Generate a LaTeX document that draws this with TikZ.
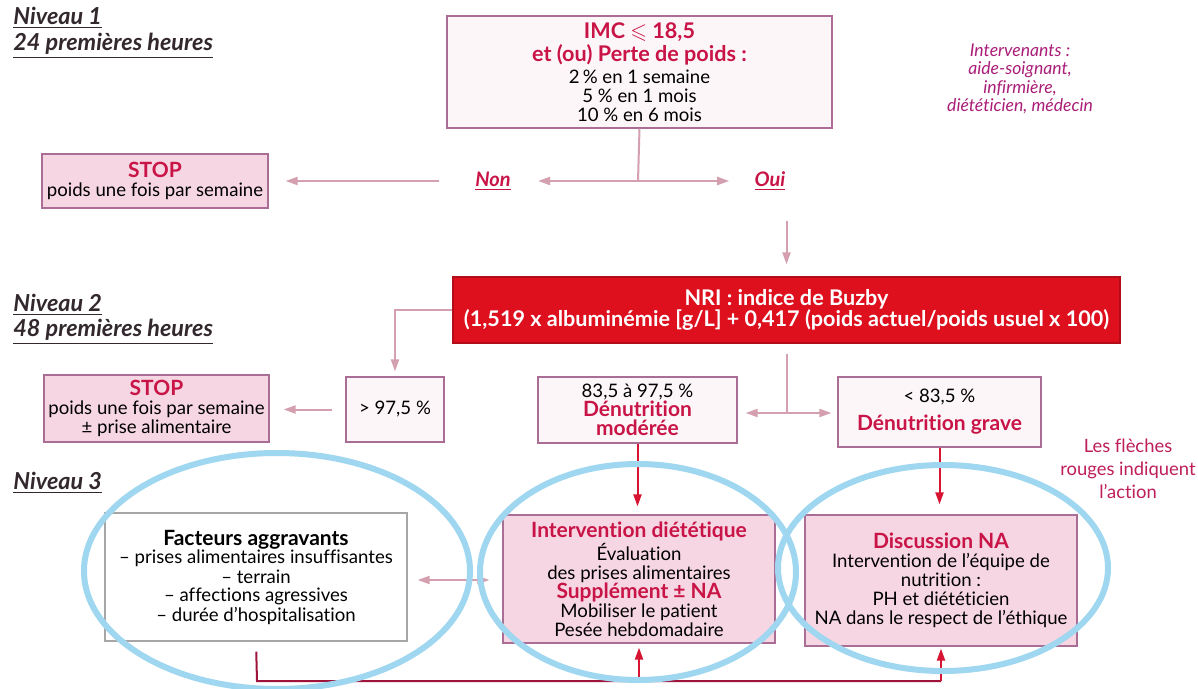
\documentclass[tikz,border=0pt]{standalone}
\usepackage{amssymb}
\usepackage{fontspec}
\setmainfont{Lato}[Ligatures={NoCommon,NoContextual}]
\usetikzlibrary{arrows.meta,calc}
\definecolor{crim}{RGB}{200,20,70}
\definecolor{boxc}{RGB}{170,110,150}
\definecolor{pinkf}{RGB}{246,214,226}
\definecolor{lightf}{RGB}{253,246,248}
\definecolor{arrc}{RGB}{212,160,176}
\definecolor{nrif}{RGB}{222,16,30}
\definecolor{redarr}{RGB}{215,20,50}
\definecolor{darkred}{RGB}{160,20,60}
\definecolor{elc}{RGB}{160,215,240}
\definecolor{intc}{RGB}{170,30,120}
\definecolor{legc}{RGB}{190,30,90}
\definecolor{titc}{RGB}{50,40,45}
\newcommand\hlc[1]{{\color{crim}\bfseries #1}}
\newcommand\bigh{\fontsize{10.5}{10}\selectfont}
\begin{document}
\begin{tikzpicture}[x=0.5pt,y=-0.5pt,
  box/.style={draw=boxc, line width=0.6pt, align=center, inner sep=0pt, text=black,
    font=\fontsize{9.3}{9.5}\selectfont},
  pinkbox/.style={box, fill=pinkf},
  whitebox/.style={box, fill=lightf},
  parr/.style={draw=arrc, line width=1pt, -{Triangle[length=6pt,width=4pt]}},
  pline/.style={draw=arrc, line width=1pt},
  rarr/.style={draw=redarr, line width=1pt, -{Triangle[length=6pt,width=4pt]}},
  lvl/.style={anchor=west, inner sep=0pt, text=titc, font=\fontsize{11.7}{13}\selectfont\bfseries\itshape},
  choice/.style={inner sep=0pt, text=crim, font=\fontsize{10}{12}\selectfont\bfseries\itshape},
  ell/.style={draw=elc, line width=3pt}
]
\useasboundingbox (0,0) rectangle (1198,689);
\fill[white] (0,0) rectangle (1198,689);

% level titles
\node[lvl] (n1) at (13,18) {\underline{Niveau 1}};
\node[lvl] (n1b) at (13,46) {\underline{24 premières heures}};
\node[lvl] (n2) at (13,305) {\underline{Niveau 2}};
\node[lvl] (n2b) at (13,332) {\underline{48 premières heures}};
\node[lvl] (n3) at (13,483) {\underline{Niveau 3}};

% top box
\node[whitebox, minimum width=192.5pt, minimum height=56pt] (top) at (639.5,72)
  {\hlc{\fontsize{10.8}{10}\selectfont IMC $\leqslant$ 18,5}\\[0.5pt]
   \hlc{\fontsize{10.8}{10}\selectfont et (ou) Perte de poids :}\\[1.5pt]
   2\,\% en 1 semaine\\ 5 \% en 1 mois\\ 10 \% en 6 mois};

\node[inner sep=0pt, align=center, text=intc, font=\fontsize{8.8}{9.2}\selectfont\itshape] (interv) at (1020,79)
  {Intervenants :\\ aide-soignant,\\ infirmière,\\ diététicien, médecin};

\node[choice] (non) at (493,181) {\underline{Non}};
\node[choice] (oui) at (770,181) {\underline{Oui}};

\node[pinkbox, minimum width=113pt, minimum height=27pt] (stop1) at (155,181)
  {\hlc{\bigh STOP}\\ poids une fois par semaine};

\coordinate (split) at (638,181);
\draw[pline] (top.south) -- (split);
\draw[parr] (split) -- ($(non.east)+(27,0)$);
\draw[parr] (split) -- ($(oui.west)+(-25,0)$);
\draw[parr, shorten <=18pt, shorten >=8.5pt] (non.west) -- (stop1.east);

% NRI
\node[box, fill=nrif, draw=nrif!80!black, text=white, minimum width=333.5pt, minimum height=33pt,
  font=\fontsize{10.8}{10.5}\selectfont\bfseries] (nri) at (786.5,310)
  {NRI : indice de Buzby\\ (1,519 x albuminémie [g/L] + 0,417 (poids actuel/poids usuel x 100)};
\draw[parr, shorten <=15pt, shorten >=6pt] (oui.south -| nri.north) -- (nri.north);

% level 2 boxes
\node[whitebox, minimum width=49pt, minimum height=32.5pt] (gt) at (395,409.5) {> 97,5 \%};
\node[pinkbox, minimum width=112.5pt, minimum height=33.5pt] (stop2) at (156.5,408.5)
  {\hlc{\bigh STOP}\\ poids une fois par semaine\\ ± prise alimentaire};
\node[whitebox, minimum width=99.5pt, minimum height=33pt] (mid) at (637.5,410)
  {83,5 à 97,5 \%\\ \hlc{\bigh Dénutrition}\\ \hlc{\bigh modérée}};
\node[whitebox, minimum width=101.5pt, minimum height=35pt] (grave) at (939.5,412)
  {< 83,5 \%\\[4.5pt] \hlc{\bigh Dénutrition grave}};

\draw[parr, shorten >=2.5pt] (nri.west) -| (gt.north);
\draw[parr, shorten <=6.5pt, shorten >=7pt] (gt.west) -- (stop2.east |- gt.west);

\coordinate (fork) at (786.5,413);
\draw[pline, shorten <=5pt] (nri.south) -- (fork);
\draw[parr] (fork) -- ($(mid.east |- fork)+(8,0)$);
\draw[parr] (fork) -- ($(grave.west |- fork)+(-6,0)$);

\node[inner sep=0pt, align=center, text=legc, font=\fontsize{9.2}{11.5}\selectfont] (legend) at (1128,469)
  {Les flèches\\ rouges indiquent\\ l'action};

% level 3 boxes
\node[box, fill=white, draw=gray!70, minimum width=151pt, minimum height=64pt] (fact) at (256,577)
  {\textbf{\bigh Facteurs aggravants}\\
   – prises alimentaires insuffisantes\\ – terrain\\ – affections agressives\\ – durée d'hospitalisation};
\node[pinkbox, minimum width=136pt, minimum height=64pt] (diet) at (639,579)
  {\hlc{\bigh Intervention diététique}\\ Évaluation\\ des prises alimentaires\\
   \hlc{\bigh Supplément ± NA}\\ Mobiliser le patient\\ Pesée hebdomadaire};
\node[pinkbox, minimum width=136pt, minimum height=65.5pt] (disc) at (941,580.5)
  {\hlc{\bigh Discussion NA}\\ Intervention de l'équipe de\\ nutrition :\\
   PH et diététicien\\ NA dans le respect de l'éthique};

\draw[rarr, shorten >=4pt] (mid.south) -- (mid.south |- diet.north);
\draw[rarr, shorten >=5pt] (grave.south) -- (grave.south |- disc.north);
\draw[pline, {Triangle[length=6pt,width=4pt]}-{Triangle[length=6pt,width=4pt]},
  shorten <=5pt, shorten >=6.5pt] (fact.east |- 0,580) -- (diet.west |- 0,580);

\coordinate (bl) at (257,681);
\coordinate (br) at (941,681);
\draw[darkred, line width=1pt, shorten <=5pt] (fact.south) -- (bl) -- (br);
\draw[rarr, shorten >=2pt] (diet.south |- bl) -- (diet.south);
\draw[rarr, shorten >=1pt] (br) -- (disc.south);

% blue ellipses
\draw[ell] (277,571) ellipse [x radius=96.5pt, y radius=59pt];
\draw[ell] (638,572) ellipse [x radius=79pt, y radius=54pt];
\draw[ell] (943,568) ellipse [x radius=82.5pt, y radius=51.5pt];
\end{tikzpicture}
\end{document}
